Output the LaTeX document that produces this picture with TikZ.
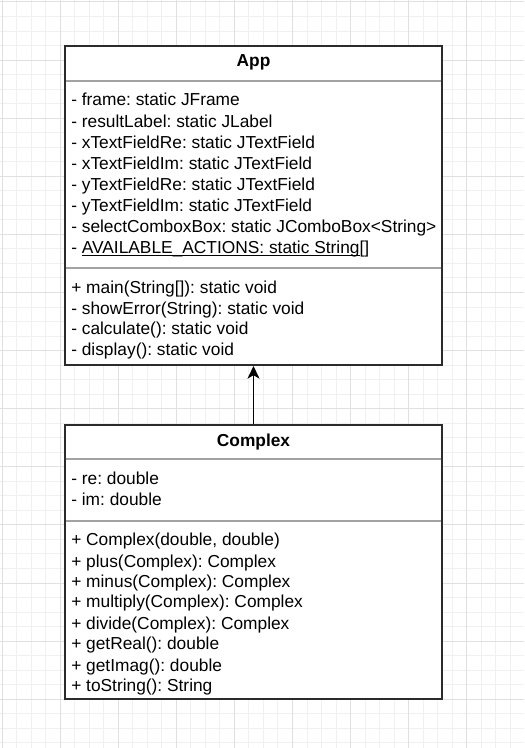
\documentclass[tikz,border=0pt]{standalone}
\usepackage{fontspec}
\setmainfont{Liberation Sans}
\usetikzlibrary{arrows.meta}
\definecolor{umlink}{HTML}{2B2B2B}
\definecolor{umlsep}{HTML}{A3A3A3}
\definecolor{gridminor}{HTML}{F0F0F0}
\definecolor{gridmajor}{HTML}{E0E0E0}
\newcommand{\staticul}[1]{\sbox0{#1}\rlap{\rule[-1.6pt]{\wd0}{.8pt}}\usebox0}
\frenchspacing

\begin{document}
\begin{tikzpicture}[
  x=.75pt,y=.75pt,
  font=\fontsize{13}{15.6}\selectfont,
  umlclass/.style={draw=umlink,line width=1.5pt,fill=white,minimum width=282.75pt,inner sep=0pt},
  classname/.style={anchor=base,inner sep=0pt,font=\fontsize{13}{15.6}\selectfont\bfseries},
  member/.style={anchor=base west,inner sep=0pt},
  sepline/.style={draw=umlsep,line width=1.5pt,shorten <=1.5pt,shorten >=1.5pt},
  arrow/.style={-{Stealth[length=9.5pt,width=9pt,inset=2.6pt]},line width=1.1pt,draw=black}
]
\useasboundingbox (0,0) rectangle (524,-748);
\fill[white] (0,0) rectangle (524,-748);
\draw[gridminor,line width=.75pt,step=14.525,shift={(2,-2)}] (-2,2) grid (522,-746);
\draw[gridmajor,line width=.75pt,step=58.1,shift={(2,-2)}] (-2,2) grid (522,-746);

\node[umlclass,minimum height=239.25pt] (app) at (253.5,-205.5) {};
\node[umlclass,minimum height=205.5pt] (complex) at (253.5,-562) {};
\draw[sepline] ([yshift=-27pt]app.north west) -- ([yshift=-27pt]app.north east);
\draw[sepline] ([yshift=-167.25pt]app.north west) -- ([yshift=-167.25pt]app.north east);
\draw[sepline] ([yshift=-26.25pt]complex.north west) -- ([yshift=-26.25pt]complex.north east);
\draw[sepline] ([yshift=-72.75pt]complex.north west) -- ([yshift=-72.75pt]complex.north east);

\node[classname] (apptitle) at (253.5,-67) {App};
\node[member] (frame) at (71,-106) {- frame: static JFrame};
\node[member] (resultlabel) at (71,-127.1) {- resultLabel: static JLabel};
\node[member] (xre) at (71,-148.2) {- xTextFieldRe: static JTextField};
\node[member] (xim) at (71,-169.3) {- xTextFieldIm: static JTextField};
\node[member] (yre) at (71,-190.4) {- yTextFieldRe: static JTextField};
\node[member] (yim) at (71,-211.5) {- yTextFieldIm: static JTextField};
\node[member] (combo) at (71,-232.6) {- selectComboxBox: static JComboBox<String>};
\node[member] (actions) at (71,-253.7) {- \staticul{AVAILABLE\_ACTIONS: static String}[]};
\node[member] (main) at (71,-293.5) {+ main(String[]): static void};
\node[member] (showerror) at (71,-314) {- showError(String): static void};
\node[member] (calculate) at (71,-334) {- calculate(): static void};
\node[member] (display) at (71,-355) {- display(): static void};

\node[classname] (complextitle) at (253.5,-446) {Complex};
\node[member] (re) at (71,-484.3) {- re: double};
\node[member] (im) at (71,-505.7) {- im: double};
\node[member] (ctor) at (71,-545.7) {+ Complex(double, double)};
\node[member] (plus) at (71,-567.3) {+ plus(Complex): Complex};
\node[member] (minus) at (71,-587.3) {+ minus(Complex): Complex};
\node[member] (multiply) at (71,-607.3) {+ multiply(Complex): Complex};
\node[member] (divide) at (71,-629) {+ divide(Complex): Complex};
\node[member] (getreal) at (71,-649.3) {+ getReal(): double};
\node[member] (getimag) at (71,-671) {+ getImag(): double};
\node[member] (tostring) at (71,-691) {+ toString(): String};

\draw[arrow] (complex.north) -- (app.south);
\end{tikzpicture}
\end{document}
